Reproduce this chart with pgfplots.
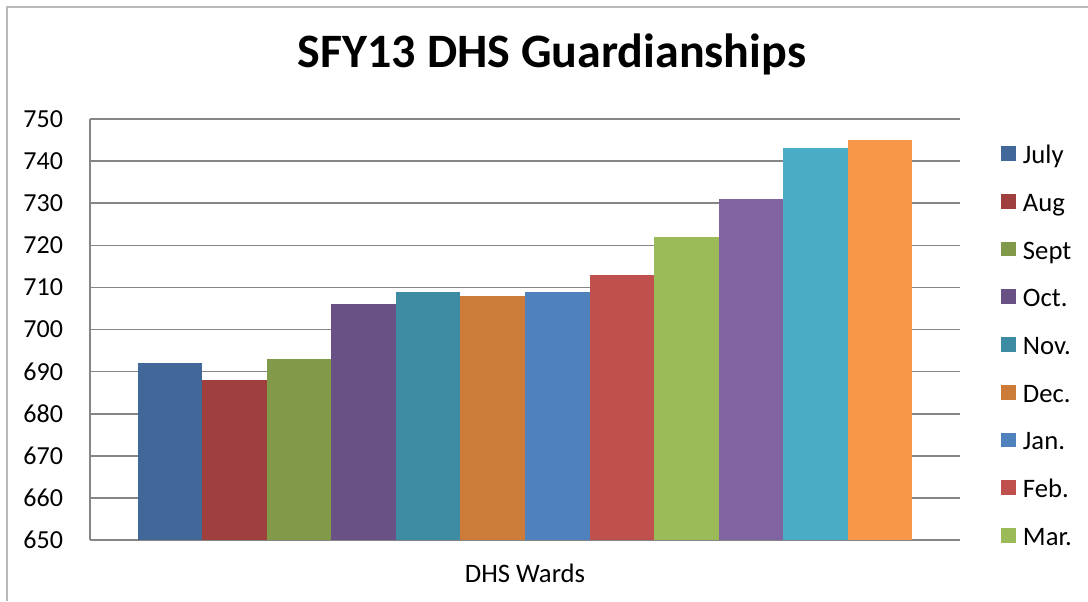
\documentclass[border=0pt]{standalone}
\usepackage{pgfplots}
\pgfplotsset{compat=1.18}
\usepackage{fontspec}
\setmainfont{Carlito}

\definecolor{cJul}{HTML}{416898}
\definecolor{cAug}{HTML}{A0403E}
\definecolor{cSep}{HTML}{809A49}
\definecolor{cOct}{HTML}{695185}
\definecolor{cNov}{HTML}{3D8CA4}
\definecolor{cDec}{HTML}{CC7B38}
\definecolor{cJan}{HTML}{4F81BD}
\definecolor{cFeb}{HTML}{C0504D}
\definecolor{cMar}{HTML}{9BBB59}
\definecolor{cApr}{HTML}{8064A2}
\definecolor{cMay}{HTML}{4BACC6}
\definecolor{cJun}{HTML}{F79646}
\definecolor{gridgray}{HTML}{868686}

\begin{document}
\begin{tikzpicture}
\useasboundingbox (-67.5pt,-45.75pt) rectangle (748.5pt,405pt);
\begin{axis}[
    at={(0pt,0pt)}, anchor=south west,
    scale only axis,
    width=652.5pt, height=315.75pt,
    ybar=0pt, bar width=48.4pt,
    xmin=-1, xmax=1,
    ymin=650, ymax=750,
    ytick distance=10,
    xtick={0}, xticklabels={DHS Wards},
    major tick length=0pt,
    axis x line*=bottom, axis y line*=left,
    axis line style={gridgray, line width=1.2pt},
    ymajorgrids, grid style={gridgray, line width=1.2pt},
    tick label style={font=\fontsize{19.5}{23}\selectfont},
    /pgf/number format/assume math mode=true,
    yticklabel style={anchor=east, xshift=-16.7pt},
    xticklabel style={anchor=base, yshift=-31.5pt, font=\fontsize{20}{24}\selectfont},
    legend style={at={(axis description cs:1.0471,0.9359)}, anchor=north west,
        draw=none, fill=none, inner sep=0pt, column sep=5.3pt, row sep=18.8pt,
        font=\fontsize{20}{24}\selectfont,
        nodes={inner sep=0pt, text height=13pt, text depth=4pt}},
    legend cell align=left,
    legend image code/.code={\fill[#1] (0pt,-2.5pt) rectangle (11pt,8.5pt);},
    every axis plot/.append style={draw=none},
]
\addplot[fill=cJul] coordinates {(0,692)};
\addplot[fill=cAug] coordinates {(0,688)};
\addplot[fill=cSep] coordinates {(0,693)};
\addplot[fill=cOct] coordinates {(0,706)};
\addplot[fill=cNov] coordinates {(0,709)};
\addplot[fill=cDec] coordinates {(0,708)};
\addplot[fill=cJan] coordinates {(0,709)};
\addplot[fill=cFeb] coordinates {(0,713)};
\addplot[fill=cMar] coordinates {(0,722)};
\addplot[fill=cApr] coordinates {(0,731)};
\addplot[fill=cMay] coordinates {(0,743)};
\addplot[fill=cJun] coordinates {(0,745)};
\legend{July, Aug, Sept, Oct., Nov., Dec., Jan., Feb., Mar.}
\end{axis}
\draw[gray!55, line width=0.9pt] (-62.25pt,-45.75pt) -- (-62.25pt,399.75pt) -- (748.5pt,399.75pt);
\node[anchor=base, font=\fontsize{36}{42}\selectfont\bfseries] at (346.5pt,354pt) {SFY13 DHS Guardianships};
\end{tikzpicture}
\end{document}
